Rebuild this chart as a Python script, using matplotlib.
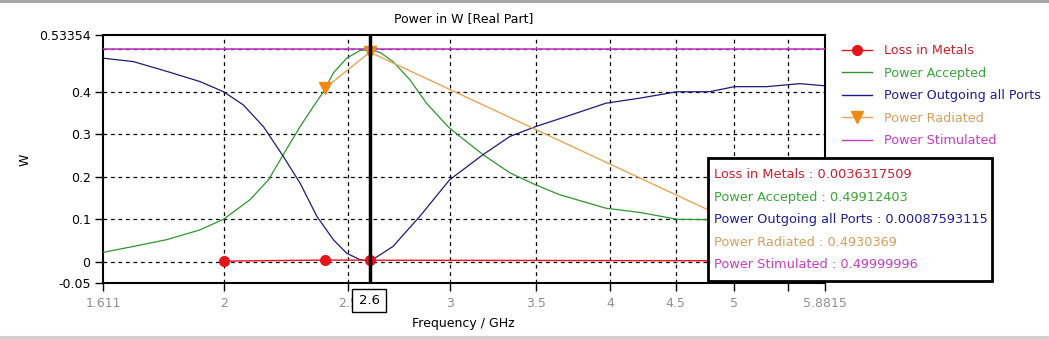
import matplotlib
matplotlib.use("Agg")
import matplotlib.pyplot as plt
from matplotlib.patches import Rectangle
from matplotlib.lines import Line2D
import numpy as np

plt.rcParams['font.family'] = ['DejaVu Sans']

# frequency samples (GHz) and power values (W)
f_accepted = [1.611, 1.701, 1.806, 1.917, 2.0, 2.097, 2.168, 2.226, 2.294, 2.349, 2.392, 2.435,
              2.494, 2.554, 2.6, 2.65, 2.71, 2.794, 2.878, 2.991, 3.055, 3.185, 3.343, 3.5,
              3.652, 3.97, 4.22, 4.51, 4.75, 5.0, 5.3, 5.6, 5.8815]
p_accepted = [0.022, 0.036, 0.052, 0.075, 0.10, 0.146, 0.193, 0.252, 0.318, 0.365, 0.40, 0.444,
              0.479, 0.497, 0.49912403, 0.492, 0.471, 0.428, 0.373, 0.318, 0.295, 0.252, 0.209, 0.181,
              0.158, 0.126, 0.116, 0.10, 0.099, 0.097, 0.095, 0.094, 0.093]

f_outgoing = [1.611, 1.701, 1.806, 1.917, 2.0, 2.072, 2.148, 2.226, 2.294, 2.364, 2.435, 2.494,
              2.554, 2.6, 2.71, 2.844, 3.0, 3.185, 3.343, 3.5, 3.70, 3.97, 4.22, 4.51,
              4.78, 5.0, 5.296, 5.622, 5.8815]
p_outgoing = [0.479, 0.471, 0.448, 0.424, 0.40, 0.369, 0.318, 0.248, 0.185, 0.107, 0.052, 0.020,
              0.005, 0.00087593115, 0.036, 0.107, 0.193, 0.252, 0.295, 0.318, 0.342, 0.373, 0.385, 0.40,
              0.40, 0.412, 0.412, 0.419, 0.414]

f_metals = [2.0, 2.4, 2.6, 5.8815]
p_metals = [0.0015, 0.0040, 0.0036317509, 0.002]

f_radiated = [2.4, 2.6, 5.8815]
p_radiated = [0.409, 0.4930369, -0.006]

f_stimulated = [1.611, 2.6, 5.8815]
p_stimulated = [0.49999996, 0.49999996, 0.49999996]

cursor_f = 2.6
cursor_idx = {'metals': 2, 'accepted': 14, 'outgoing': 13, 'radiated': 1, 'stimulated': 1}

x_ticks = [1.611, 2, 2.5, 3, 3.5, 4, 4.5, 5, 5.5, 5.8815]
x_labels = ['1.611', '2', '2.5', '3', '3.5', '4', '4.5', '5', '', '5.8815']
y_ticks = [-0.05, 0, 0.1, 0.2, 0.3, 0.4, 0.53354]
y_labels = ['-0.05', '0', '0.1', '0.2', '0.3', '0.4', '0.53354']
x_grid = [2, 2.5, 3, 3.5, 4, 4.5, 5, 5.5]
y_grid = [0, 0.1, 0.2, 0.3, 0.4, 0.5]

c_red = '#e8141c'
c_green = '#2f962f'
c_blue = '#1c1c7a'
c_orange = '#f08a14'
c_orange_line = '#e6a65a'
c_magenta = '#c63cc6'

W, H = 1049, 339
fig = plt.figure(figsize=(W / 100, H / 100), dpi=100)
ax = fig.add_axes([103 / W, 1 - 283 / H, (825 - 103) / W, (283 - 35) / H])

ax.set_xscale('log')
ax.set_xlim(1.611, 5.8815)
ax.set_ylim(-0.05, 0.53354)

for g in x_grid:
    ax.axvline(g, color='black', lw=0.9, ls=(0, (3, 3)), zorder=1)
for g in y_grid:
    ax.axhline(g, color='black', lw=0.9, ls=(0, (3, 3)), zorder=1)

ax.plot(f_stimulated, p_stimulated, color=c_magenta, lw=1.2, zorder=3)
ax.plot(f_accepted, p_accepted, color=c_green, lw=0.9, zorder=3)
ax.plot(f_outgoing, p_outgoing, color=c_blue, lw=0.9, zorder=3)
ax.plot(f_radiated, p_radiated, color=c_orange_line, lw=1.0, zorder=3)
ax.plot(f_radiated[:2], p_radiated[:2], ls='none', marker='v', ms=8, color=c_orange, zorder=4)
ax.plot(f_metals, p_metals, color=c_red, lw=1.0, zorder=3)
ax.plot(f_metals[:3], p_metals[:3], ls='none', marker='o', ms=7, color=c_red, zorder=4)

ax.axvline(cursor_f, color='black', lw=2.5, zorder=5)

ax.set_xticks(x_ticks)
ax.set_xticklabels(x_labels)
ax.xaxis.set_minor_locator(matplotlib.ticker.NullLocator())
ax.set_yticks(y_ticks)
ax.set_yticklabels(y_labels)
ax.tick_params(axis='x', colors='black', labelcolor='#8f8f8f', labelsize=9, length=6, width=1, pad=4)
ax.tick_params(axis='y', colors='black', labelcolor='black', labelsize=9, length=6, width=1, pad=3)
for s in ax.spines.values():
    s.set_linewidth(1.5)

# cursor frequency box
fig.patches.append(Rectangle((352 / W, 1 - 312 / H), 34 / W, 23 / H, transform=fig.transFigure,
                             fc='white', ec='black', lw=1, zorder=9))
fig.text(369 / W, 1 - 300.5 / H, '%g' % cursor_f, ha='center', va='center', fontsize=9.5, zorder=10)

fig.text(464 / W, 1 - 19 / H, 'Power in W [Real Part]', ha='center', va='center', fontsize=9)
fig.text(463 / W, 1 - 324 / H, 'Frequency / GHz', ha='center', va='center', fontsize=9)
fig.text(25 / W, 1 - 160 / H, 'W', ha='center', va='center', fontsize=9, rotation=90)

# legend
names = ['Loss in Metals', 'Power Accepted', 'Power Outgoing all Ports', 'Power Radiated', 'Power Stimulated']
text_colors = ['#cc1f2b', '#3aa63a', '#1e1e96', '#d79e58', '#c63cc6']
handles = [
    Line2D([], [], color=c_red, lw=1, marker='o', ms=7),
    Line2D([], [], color=c_green, lw=1),
    Line2D([], [], color=c_blue, lw=1),
    Line2D([], [], color=c_orange_line, lw=1, marker='v', ms=8, mfc=c_orange, mec=c_orange),
    Line2D([], [], color=c_magenta, lw=1),
]
leg = fig.legend(handles, names, loc='upper left', bbox_to_anchor=(830 / W, 1 - 33 / H),
                 frameon=False, fontsize=9.2, handlelength=2.4, handletextpad=0.9,
                 labelspacing=0.74, labelcolor=text_colors)

# value readout at cursor
series_vals = [p_metals[cursor_idx['metals']], p_accepted[cursor_idx['accepted']],
               p_outgoing[cursor_idx['outgoing']], p_radiated[cursor_idx['radiated']],
               p_stimulated[cursor_idx['stimulated']]]
fig.patches.append(Rectangle((708 / W, 1 - 281 / H), (992 - 708) / W, (281 - 158) / H,
                             transform=fig.transFigure, fc='white', ec='black', lw=2, zorder=8))
for i, (n, v, c) in enumerate(zip(names, series_vals, text_colors)):
    fig.text(714 / W, 1 - (175 + i * 22.5) / H, f'{n} : {v:.10g}', ha='left', va='center',
             fontsize=9.3, color=c, zorder=9)

# window frame edges
fig.add_artist(Line2D([0, 1], [1 - 1 / H, 1 - 1 / H], transform=fig.transFigure, color='#a0a0a0', lw=2))
fig.add_artist(Line2D([0, 1], [1.5 / H, 1.5 / H], transform=fig.transFigure, color='#d0d0d0', lw=3))

fig.savefig('out.png', dpi=100)
